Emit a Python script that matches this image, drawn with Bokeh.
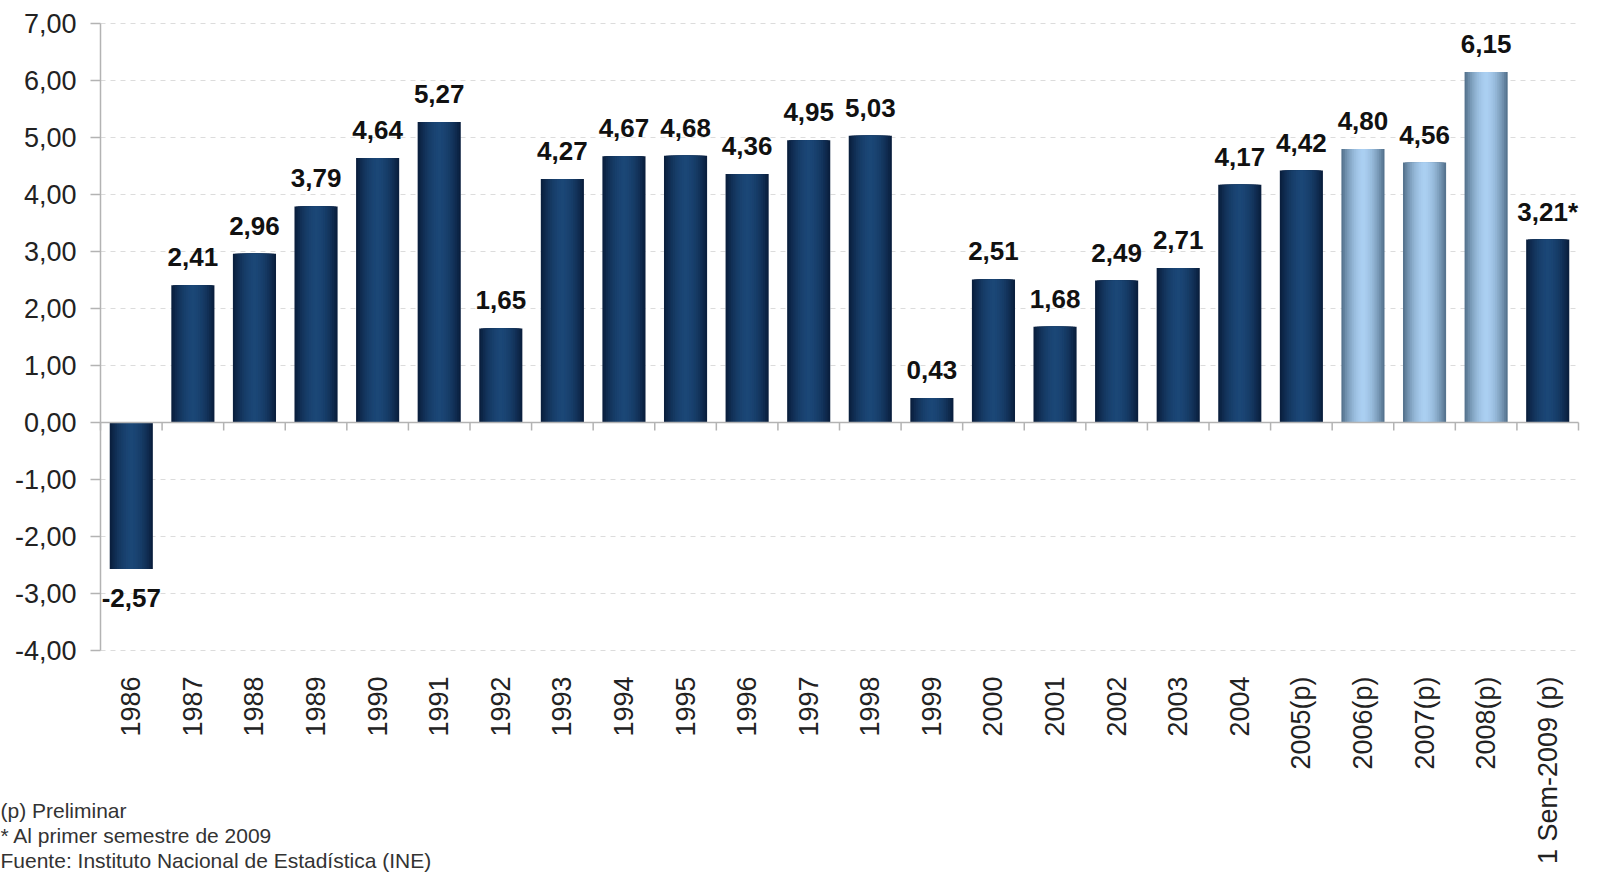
import numpy as np
from bokeh.plotting import figure
from bokeh.models import (ColumnDataSource, FixedTicker, CustomJSTickFormatter, Label)
from bokeh.core.properties import value
from bokeh.embed import file_html
from bokeh.resources import INLINE

# ---- data ----
categories = ["1986", "1987", "1988", "1989", "1990", "1991", "1992", "1993", "1994",
              "1995", "1996", "1997", "1998", "1999", "2000", "2001", "2002", "2003",
              "2004", "2005(p)", "2006(p)", "2007(p)", "2008(p)", "1 Sem-2009 (p)"]
growth = [-2.57, 2.41, 2.96, 3.79, 4.64, 5.27, 1.65, 4.27, 4.67, 4.68, 4.36, 4.95,
          5.03, 0.43, 2.51, 1.68, 2.49, 2.71, 4.17, 4.42, 4.80, 4.56, 6.15, 3.21]
label_suffix = [""] * 23 + ["*"]
highlight = ["2006(p)", "2007(p)", "2008(p)"]
y_ticks = list(range(-4, 8))
footnotes = ["(p) Preliminar", "* Al primer semestre de 2009",
             "Fuente: Instituto Nacional de Estadística (INE)"]

FONT = "Liberation Sans"
n = len(categories)
xs = np.arange(n)
vals = np.array(growth)
y_lo, y_hi = min(y_ticks), max(y_ticks)

# ---- layout (pixels) ----
W, H = 1602, 873
PLOT_L, PLOT_T, PLOT_W, PLOT_H = 100, 23, 1478, 627
ppx = PLOT_W / n                 # px per category
ppy = PLOT_H / (y_hi - y_lo)     # px per unit
x_range = (-0.5 - PLOT_L / ppx, -0.5 + (W - PLOT_L) / ppx)
y_range = (y_hi - (H - PLOT_T) / ppy, y_hi + PLOT_T / ppy)

def lerp(c1, c2, t):
    a = [int(c1[i:i + 2], 16) for i in (1, 3, 5)]
    b = [int(c2[i:i + 2], 16) for i in (1, 3, 5)]
    return "#%02x%02x%02x" % tuple(int(round(a[k] + (b[k] - a[k]) * t)) for k in range(3))

DARK_EDGE, DARK_CENTER = "#0a1f3e", "#1b4777"
LIGHT_EDGE, LIGHT_CENTER = "#56748f", "#abd0f2"

p = figure(frame_width=W, frame_height=H, x_range=x_range, y_range=y_range,
           output_backend="svg", toolbar_location=None,
           min_border_left=0, min_border_right=0, min_border_top=0, min_border_bottom=0)
p.outline_line_color = None
p.background_fill_color = "white"
p.xgrid.grid_line_color = None
p.ygrid.grid_line_color = None

# dashed horizontal grid lines across the category span
p.segment(x0=[-0.5] * len(y_ticks), x1=[n - 0.5] * len(y_ticks), y0=y_ticks, y1=y_ticks,
          line_color="#dcdcdc", line_dash="5 5", line_width=1)

# bars with horizontal gradient (layered strips)
BAR_W = 0.7
L = 12
src = {"x": xs, "top": vals}
is_light = [c in highlight for c in categories]
for k in range(L):
    f = 1 - k / L
    t = f ** 1.8
    src["c%d" % k] = [lerp(LIGHT_CENTER, LIGHT_EDGE, t) if il else lerp(DARK_CENTER, DARK_EDGE, t)
                      for il in is_light]
source = ColumnDataSource(src)
for k in range(L):
    f = 1 - k / L
    p.vbar(x="x", top="top", bottom=0, width=BAR_W * f, source=source,
           fill_color="c%d" % k, line_color=None)

# zero line and category ticks
p.segment(x0=[-0.5], x1=[n - 0.5], y0=[0], y1=[0], line_color="#b3b3b3", line_width=1.5)
bounds = np.arange(n + 1) - 0.5
p.segment(x0=bounds, x1=bounds, y0=np.zeros(n + 1), y1=np.full(n + 1, -8 / ppy),
          line_color="#b3b3b3", line_width=1.5)

# value labels
lab_src = ColumnDataSource({
    "x": xs, "y": vals,
    "text": [("%.2f" % v).replace(".", ",") + s for v, s in zip(growth, label_suffix)],
    "off": np.where(vals >= 0, -28, 29),
})
p.text(x="x", y="y", text="text", y_offset="off", source=lab_src,
       text_align="center", text_baseline="alphabetic",
       text_font=value(FONT), text_font_style="bold", text_font_size="26px",
       text_color="#111111")

# y axis (fixed at the left edge of the category span)
yax = p.yaxis[0]
yax.fixed_location = -0.5
yax.bounds = (y_lo, y_hi)
yax.ticker = FixedTicker(ticks=y_ticks)
yax.formatter = CustomJSTickFormatter(code="return tick.toFixed(2).replace('.', ',');")
yax.axis_line_color = "#b3b3b3"
yax.axis_line_width = 1.5
yax.major_tick_line_color = "#b3b3b3"
yax.major_tick_line_width = 1.5
yax.major_tick_out = 10
yax.major_tick_in = 0
yax.minor_tick_line_color = None
yax.major_label_standoff = 14
yax.major_label_text_font = FONT
yax.major_label_text_font_size = "27px"
yax.major_label_text_color = "#222222"

# x axis (fixed at the bottom of the value span)
xax = p.xaxis[0]
xax.fixed_location = y_lo
xax.ticker = FixedTicker(ticks=list(xs))
xax.major_label_overrides = {int(i): c for i, c in zip(xs, categories)}
xax.major_label_orientation = np.pi / 2
xax.axis_line_color = None
xax.major_tick_line_color = None
xax.minor_tick_line_color = None
xax.major_label_standoff = 20
xax.major_label_text_font = FONT
xax.major_label_text_font_size = "27px"
xax.major_label_text_color = "#222222"

# footnotes
for i, txt in enumerate(footnotes):
    p.add_layout(Label(x=0, y=(H - 810) - 25 * i, x_units="screen", y_units="screen",
                       text=txt, text_font=FONT, text_font_size="21px",
                       text_color="#333333", text_baseline="alphabetic"))

open("out.html", "w").write(file_html(p, INLINE))
